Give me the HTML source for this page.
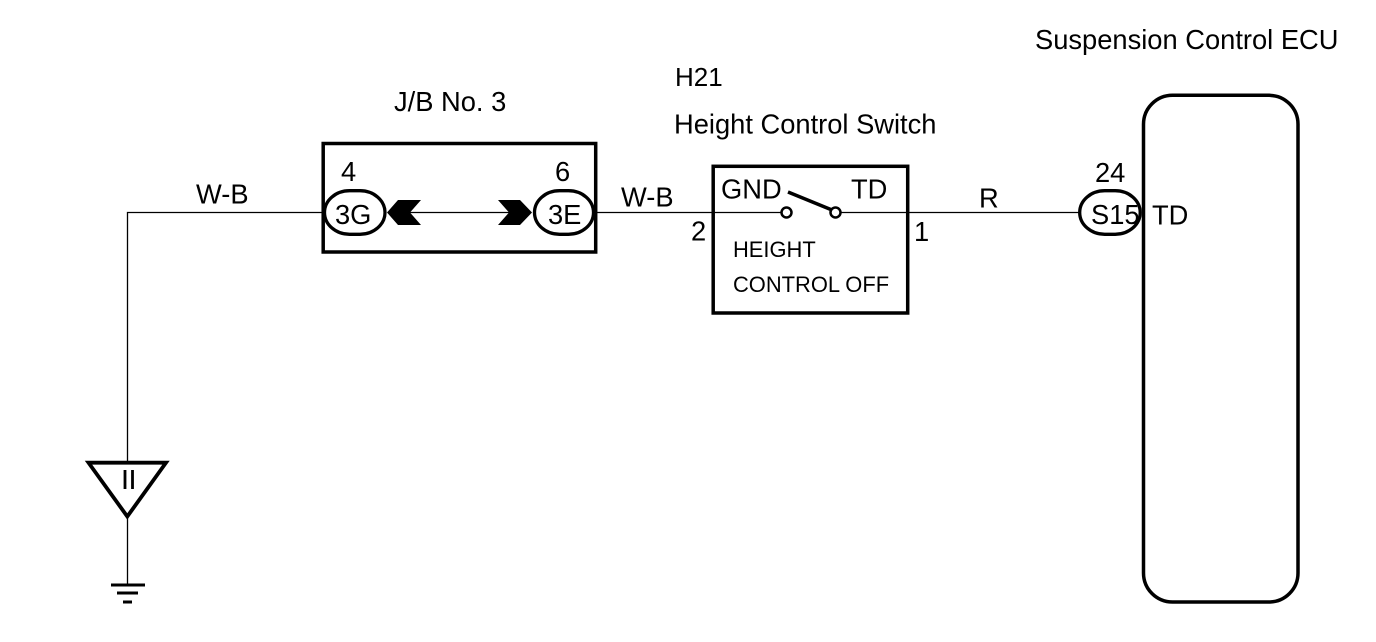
<!DOCTYPE html>
<html><head><meta charset="utf-8"><style>
html,body{margin:0;padding:0;background:#fff;width:1376px;height:642px;overflow:hidden}
svg{display:block}
text{font-family:"Liberation Sans",Arial,sans-serif;fill:#000}
</style></head><body>
<svg width="1376" height="642" viewBox="0 0 1376 642" xmlns="http://www.w3.org/2000/svg">
<g fill="none" stroke="#000">
<path d="M127.500 462V212.500H324" stroke-width="1.300"/>
<path d="M127.500 516V584" stroke-width="1.300"/>
<path d="M595 212.500H781M841 212.500H1082" stroke-width="1.300"/>
<path d="M390 212.500H530" stroke-width="1.300"/>
<rect x="323.200" y="143.500" width="272.500" height="108.500" stroke-width="3.500"/>
<rect x="713.200" y="166.300" width="194.500" height="146.700" stroke-width="3.500"/>
<rect x="1143.500" y="95.300" width="154.500" height="506.700" rx="29" ry="29" stroke-width="3.500"/>
<path d="M88.500 462.700H166L127.300 516.500Z" stroke-width="3.800"/>
<path d="M111 585H145M117 593H138M123 602H132" stroke-width="3"/>
<path d="M788 192L832 210" stroke-width="3.500"/>
</g>
<g fill="#fff" stroke="#000" stroke-width="3.300">
<rect x="324.500" y="190.700" width="60.500" height="43.600" rx="25" ry="21.800"/>
<rect x="534.500" y="190.700" width="59" height="43.600" rx="25" ry="21.800"/>
<rect x="1079.700" y="190.700" width="60.500" height="43.600" rx="25" ry="21.800"/>
<circle cx="786.500" cy="212.500" r="5" stroke-width="2.500"/>
<circle cx="835.500" cy="212.500" r="5" stroke-width="2.500"/>
</g>
<path d="M387 212.500L398 200H421L410 212.500L421 225H398Z" fill="#000"/>
<path d="M498 200H520L532 212.500L520 225H498L509 212.500Z" fill="#000"/>
<g font-size="27.300">
<text x="1035" y="49">Suspension Control ECU</text>
<text x="675" y="86" font-size="26">H21</text>
<text x="674" y="133.500">Height Control Switch</text>
<text x="394" y="111">J/B No. 3</text>
<text x="196" y="203.500">W-B</text>
<text x="621" y="206.500">W-B</text>
<text x="979" y="207.500">R</text>
<text x="341" y="181">4</text>
<text x="555" y="181">6</text>
<text x="1095" y="182">24</text>
<text x="335" y="224">3G</text>
<text x="548" y="224">3E</text>
<text x="1091" y="224">S15</text>
<text x="1152" y="224.500">TD</text>
<text x="721" y="198.500">GND</text>
<text x="851" y="198.500">TD</text>
<text x="691" y="240.500">2</text>
<text x="914" y="241">1</text>
</g>
<g font-size="21.900">
<text x="733" y="257">HEIGHT</text>
<text x="733" y="292">CONTROL OFF</text>
</g>
<path d="M125 470V489M132.500 470V489" stroke="#000" stroke-width="2.800" fill="none"/>
</svg>
</body></html>
